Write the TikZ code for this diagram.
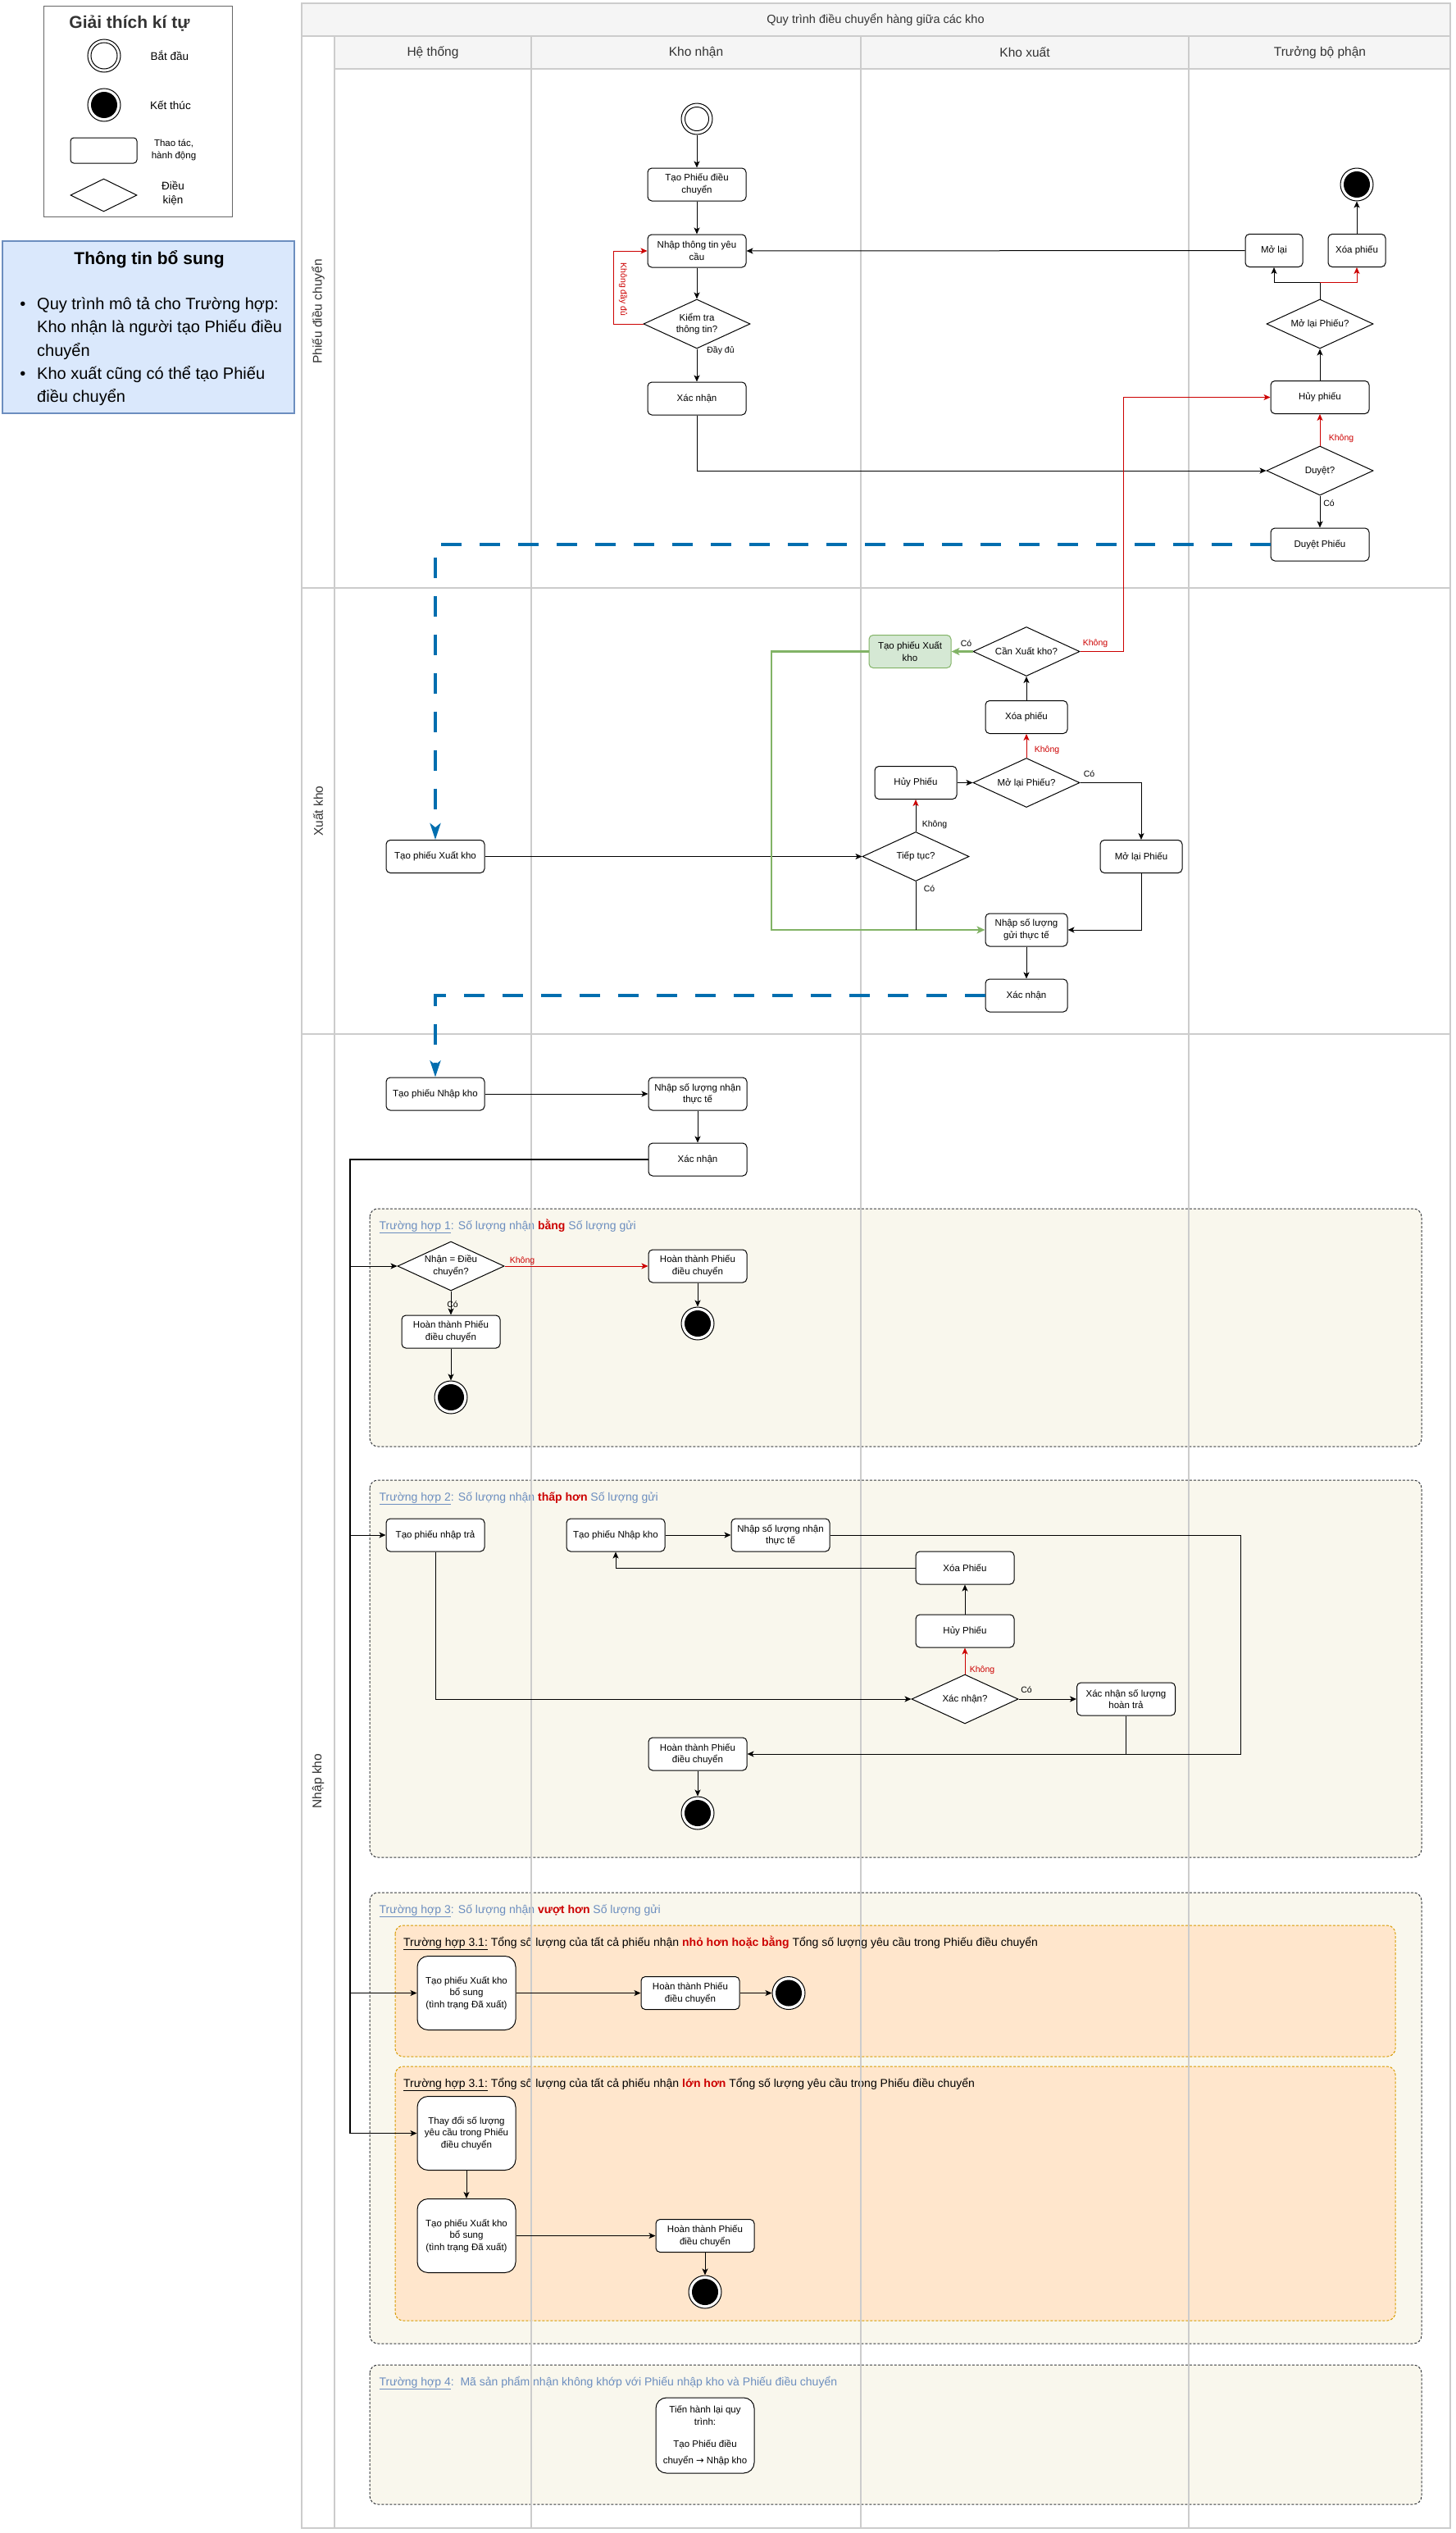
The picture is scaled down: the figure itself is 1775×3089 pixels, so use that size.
\documentclass[tikz,border=0pt]{standalone}
\usepackage{fontspec}
\setmainfont{Liberation Sans}
\newfontfamily\djv{DejaVu Sans}
\usetikzlibrary{arrows.meta,shapes.geometric}
\definecolor{gridc}{HTML}{CCCCCC}
\definecolor{hdrfill}{HTML}{F5F5F5}
\definecolor{hdrtext}{HTML}{333333}
\definecolor{tred}{HTML}{CC0000}
\definecolor{bluedash}{HTML}{006EAF}
\definecolor{gfill}{HTML}{D5E8D4}
\definecolor{gline}{HTML}{82B366}
\definecolor{casefill}{HTML}{F9F7ED}
\definecolor{caseline}{HTML}{36393D}
\definecolor{subfill}{HTML}{FFE6CC}
\definecolor{subline}{HTML}{D79B00}
\definecolor{ctitle}{HTML}{6C8EBF}
\definecolor{infofill}{HTML}{DAE8FC}
\definecolor{infoline}{HTML}{6C8EBF}
\definecolor{legline}{HTML}{666666}
\newcommand\nfont{\fontsize{11.5}{14.5}\selectfont}
\newcommand\sfontx{\fontsize{10.5}{12}\selectfont}
\newcommand\hfont{\fontsize{15.5}{18}\selectfont}
\newcommand\tfont{\fontsize{14}{16}\selectfont}
\newcommand\ifont{\fontsize{20}{24}\selectfont}
\newcommand\lgfont{\fontsize{13.5}{16}\selectfont}
\tikzset{
  act/.style={draw, line width=1, fill=white, rounded corners=5, minimum width=120, minimum height=40, inner sep=1, align=center, font=\nfont},
  tall/.style={act, rounded corners=13, minimum height=90},
  cond/.style={diamond, draw, line width=1, fill=white, aspect=2.17, minimum width=130, minimum height=60, inner sep=0, align=center, font=\nfont},
  startc/.style={circle, draw, line width=1, fill=white, minimum size=38, inner sep=0, path picture={\draw[black, line width=1] (path picture bounding box.center) circle (14.5pt);}},
  endc/.style={circle, draw, line width=1, fill=white, minimum size=40, inner sep=0, path picture={\fill[black] (path picture bounding box.center) circle (16pt);}},
  arr/.style={line width=1, -{Stealth[length=8pt,width=7pt,inset=2pt]}},
  rtip/.style={line width=1, -{Stealth[length=8pt,width=7pt,inset=2pt,color=tred]}},
  garr/.style={draw=gline, line width=2.5, -{Stealth[length=10pt,width=9pt,inset=2.5pt]}},
  bdash/.style={draw=bluedash, line width=3.5, dash pattern=on 25pt off 22pt, -{Stealth[length=20pt,width=13pt,inset=5pt]}},
  grid/.style={draw=gridc, line width=1.5},
  lbl/.style={font=\sfontx, inner sep=0},
  rlbl/.style={font=\sfontx, inner sep=0, text=tred},
  casebox/.style={draw=caseline, fill=casefill, dash pattern=on 3pt off 2pt, line width=1, rounded corners=10},
  subbox/.style={draw=subline, fill=subfill, dash pattern=on 3pt off 2pt, line width=1, rounded corners=10},
  ctit/.style={anchor=base west, font=\tfont, inner sep=0},
}
\begin{document}
\begin{tikzpicture}[x=1pt,y=-1pt]
\useasboundingbox (0,0) rectangle (1775,3089);

% ---------------- legend
\draw[draw=legline, line width=1] (53,7) rectangle (283,264);
\node[font=\fontsize{21}{24}\selectfont\bfseries, text=hdrtext] (legtitle) at (158,29) {Giải thích kí tự};
\node[startc, minimum size=40, path picture={\draw[black, line width=1] (path picture bounding box.center) circle (16pt);}] (legstart) at (127,68) {};
\node[font=\lgfont] (legstartt) at (207,68) {Bắt đầu};
\node[endc] (legend) at (127,128) {};
\node[font=\lgfont] (legendt) at (208,128) {Kết thúc};
\node[draw, line width=1, rounded corners=4, minimum width=81, minimum height=31, inner sep=0] (legrect) at (126.5,183.5) {};
\node[font=\fontsize{11.5}{14.5}\selectfont, align=center] (legrectt) at (212,183) {Thao tác,\\hành động};
\node[diamond, draw, line width=1, aspect=2.02, minimum width=81, minimum height=40, inner sep=0] (legdia) at (126.5,238) {};
\node[font=\fontsize{13.5}{17}\selectfont, align=center] (legdiat) at (211,236) {Điều\\kiện};

% ---------------- info box
\draw[fill=infofill, draw=infoline, line width=1.2] (3,294) rectangle (359,504);
\node[font=\fontsize{21}{24}\selectfont\bfseries] (infotitle) at (182,316) {Thông tin bổ sung};
\node[font=\ifont, anchor=base] (b1) at (28,377) {•};
\node[font=\ifont, anchor=base] (b2) at (28,462) {•};
\node[font=\ifont, anchor=base west, inner sep=0] (i1) at (45,377) {Quy trình mô tả cho Trường hợp:};
\node[font=\ifont, anchor=base west, inner sep=0] (i2) at (45,405) {Kho nhận là người tạo Phiếu điều};
\node[font=\ifont, anchor=base west, inner sep=0] (i3) at (45,434) {chuyển};
\node[font=\ifont, anchor=base west, inner sep=0] (i4) at (45,462) {Kho xuất cũng có thể tạo Phiếu};
\node[font=\ifont, anchor=base west, inner sep=0] (i5) at (45,490) {điều chuyển};

% ---------------- pool headers
\fill[hdrfill] (368,4) rectangle (1769,44);
\fill[hdrfill] (408,44) rectangle (1769,84);
\node[font=\fontsize{14.5}{17}\selectfont, text=hdrtext] (ptitle) at (1068,24) {Quy trình điều chuyển hàng giữa các kho};
\node[font=\hfont, text=hdrtext] (c1) at (528,64) {Hệ thống};
\node[font=\hfont, text=hdrtext] (c2) at (849,64) {Kho nhận};
\node[font=\hfont, text=hdrtext] (c3) at (1250,64) {Kho xuất};
\node[font=\hfont, text=hdrtext] (c4) at (1610,64) {Trưởng bộ phận};
\node[font=\hfont, text=hdrtext, rotate=90] (l1) at (388,380) {Phiếu điều chuyển};
\node[font=\hfont, text=hdrtext, rotate=90] (l2) at (388,989) {Xuất kho};
\node[font=\hfont, text=hdrtext, rotate=90] (l3) at (388,2172) {Nhập kho};

% ---------------- case containers
\draw[casebox] (451,1474) rectangle (1734,1764);
\node[ctit] (t1) at (462.5,1499) {\textcolor{ctitle}{\underline{Trường hợp 1}: Số lượng nhận} \textcolor{tred}{\bfseries bằng} \textcolor{ctitle}{Số lượng gửi}};
\draw[casebox] (451,1805) rectangle (1734,2265);
\node[ctit] (t2) at (462.5,1830) {\textcolor{ctitle}{\underline{Trường hợp 2}: Số lượng nhận} \textcolor{tred}{\bfseries thấp hơn} \textcolor{ctitle}{Số lượng gửi}};
\draw[casebox] (451,2308) rectangle (1734,2858);
\node[ctit] (t3) at (462.5,2333) {\textcolor{ctitle}{\underline{Trường hợp 3}: Số lượng nhận} \textcolor{tred}{\bfseries vượt hơn} \textcolor{ctitle}{Số lượng gửi}};
\draw[subbox] (482,2348) rectangle (1702,2508);
\node[ctit] (t31) at (492,2373) {\underline{Trường hợp 3.1:} Tổng số lượng của tất cả phiếu nhận \textcolor{tred}{\bfseries nhỏ hơn hoặc bằng} Tổng số lượng yêu cầu trong Phiếu điều chuyển};
\draw[subbox] (482,2520) rectangle (1702,2830);
\node[ctit] (t32) at (492,2545) {\underline{Trường hợp 3.1:} Tổng số lượng của tất cả phiếu nhận \textcolor{tred}{\bfseries lớn hơn} Tổng số lượng yêu cầu trong Phiếu điều chuyển};
\draw[casebox] (451,2884) rectangle (1734,3054);
\node[ctit] (t4) at (462.5,2909) {\textcolor{ctitle}{\underline{Trường hợp 4}:\ \ Mã sản phẩm nhận không khớp với Phiếu nhập kho và Phiếu điều chuyển}};

% ---------------- grid lines
\draw[grid] (368,4) rectangle (1769,3083);
\draw[grid] (368,44) -- (1769,44);
\draw[grid] (408,84) -- (1769,84);
\draw[grid] (408,44) -- (408,3083);
\draw[grid] (648,44) -- (648,3083);
\draw[grid] (1050,44) -- (1050,3083);
\draw[grid] (1450,44) -- (1450,3083);
\draw[grid] (368,717) -- (1769,717);
\draw[grid] (368,1261) -- (1769,1261);

% ---------------- lane 1 nodes
\node[startc] (start1) at (850,145) {};
\node[act] (n_tao) at (850,225) {Tạo Phiếu điều\\chuyển};
\node[act] (n_nhap) at (850,306) {Nhập thông tin yêu\\cầu};
\node[cond] (d_kt) at (850,395) {Kiểm tra\\thông tin?};
\node[act] (n_xn1) at (850,486) {Xác nhận};
\node[cond] (d_duyet) at (1610,574) {Duyệt?};
\node[act] (n_duyetp) at (1610,664) {Duyệt Phiếu};
\node[act] (n_huy1) at (1610,484.5) {Hủy phiếu};
\node[cond] (d_mol) at (1610,395) {Mở lại Phiếu?};
\node[act, minimum width=70] (n_mo) at (1554,305.5) {Mở lại};
\node[act, minimum width=70] (n_xoa) at (1655,305.5) {Xóa phiếu};
\node[endc] (end1) at (1655,225) {};

\node[rlbl, rotate=-90] (lb_kdd) at (760,353) {Không đầy đủ};
\node[lbl] (lb_dd) at (879,428) {Đầy đủ};
\node[rlbl] (lb_k1) at (1636,535) {Không};
\node[lbl] (lb_c1) at (1621,614) {Có};

% ---------------- lane 2 nodes
\node[act] (n_txk_ht) at (531,1044.5) {Tạo phiếu Xuất kho};
\node[cond] (d_tieptuc) at (1117,1044.5) {Tiếp tục?};
\node[act, minimum width=100] (n_huy2) at (1117,954.5) {Hủy Phiếu};
\node[cond] (d_mol2) at (1252,954.5) {Mở lại Phiếu?};
\node[act, minimum width=100] (n_xoa2) at (1252,874.5) {Xóa phiếu};
\node[cond] (d_can) at (1252,794.5) {Cần Xuất kho?};
\node[act, minimum width=100, fill=gfill, draw=gline] (n_txk_g) at (1110,794.5) {Tạo phiếu Xuất\\kho};
\node[act, minimum width=100] (n_molp) at (1392,1044.5) {Mở lại Phiếu};
\node[act, minimum width=100] (n_nsl) at (1252,1134) {Nhập số lượng\\gửi thực tế};
\node[act, minimum width=100] (n_xn2) at (1252,1214) {Xác nhận};

\node[lbl] (lb_c2) at (1178.5,785) {Có};
\node[rlbl] (lb_k2) at (1336,785) {Không};
\node[rlbl] (lb_k3) at (1277,915) {Không};
\node[lbl] (lb_c3) at (1328.5,944) {Có};
\node[lbl] (lb_k4) at (1140,1006) {Không};
\node[lbl] (lb_c4) at (1133.5,1084) {Có};

% ---------------- lane 3 nodes
\node[act] (n_tpnk) at (531,1334) {Tạo phiếu Nhập kho};
\node[act] (n_nsln) at (851,1334) {Nhập số lượng nhận\\thực tế};
\node[act] (n_xn3) at (851,1414) {Xác nhận};

\node[cond] (d_nhan) at (550,1544) {Nhận = Điều\\chuyển?};
\node[act] (n_ht1b) at (851,1544) {Hoàn thành Phiếu\\điều chuyển};
\node[endc] (end_c1b) at (851,1614) {};
\node[act] (n_ht1a) at (550,1624) {Hoàn thành Phiếu\\điều chuyển};
\node[endc] (end_c1a) at (550,1704) {};
\node[rlbl] (lb_k5) at (637,1538) {Không};
\node[lbl] (lb_c5) at (552,1591) {Có};

\node[act] (n_tpnt) at (531,1872) {Tạo phiếu nhập trả};
\node[act] (n_tpnk2) at (751,1872) {Tạo phiếu Nhập kho};
\node[act] (n_nsln2) at (952,1872) {Nhập số lượng nhận\\thực tế};
\node[act] (n_xoa3) at (1177,1912) {Xóa Phiếu};
\node[act] (n_huy3) at (1177,1989) {Hủy Phiếu};
\node[cond] (d_xn) at (1177,2072) {Xác nhận?};
\node[act] (n_xnht) at (1373.5,2072) {Xác nhận số lượng\\hoàn trả};
\node[act] (n_ht2) at (851,2139) {Hoàn thành Phiếu\\điều chuyển};
\node[endc] (end_c2) at (851,2211) {};
\node[rlbl] (lb_k6) at (1198,2037) {Không};
\node[lbl] (lb_c6) at (1252,2061) {Có};

\node[tall] (n_tpxb1) at (569,2430.5) {Tạo phiếu Xuất kho\\bổ sung\\(tình trạng Đã xuất)};
\node[act] (n_ht31) at (842,2430.5) {Hoàn thành Phiếu\\điều chuyển};
\node[endc] (end_31) at (962,2430.5) {};
\node[tall] (n_td) at (569,2601.5) {Thay đổi số lượng\\yêu cầu trong Phiếu\\điều chuyển};
\node[tall] (n_tpxb2) at (569,2726.5) {Tạo phiếu Xuất kho\\bổ sung\\(tình trạng Đã xuất)};
\node[act] (n_ht32) at (860,2726.5) {Hoàn thành Phiếu\\điều chuyển};
\node[endc] (end_32) at (860,2795) {};

\node[tall, minimum height=92] (n_th) at (860,2970) {Tiến hành lại quy\\trình:\\[13pt]Tạo Phiếu điều\\[5pt]chuyển {\djv →} Nhập kho};

% ---------------- connectors lane 1
\draw[arr] (start1) -- (n_tao);
\draw[arr] (n_tao) -- (n_nhap);
\draw[arr] (n_nhap) -- (d_kt);
\draw[arr] (d_kt) -- (n_xn1);
\draw[arr, tred] (d_kt.west) -- ++(-36,0) |- (n_nhap.west);
\draw[arr] (n_xn1.south) |- (d_duyet.west);
\draw[arr, tred] (d_duyet) -- (n_huy1);
\draw[arr] (d_duyet) -- (n_duyetp);
\draw[arr] (n_huy1) -- (d_mol);
\coordinate (brk) at (1610,344);
\draw[arr] (d_mol.north) -- (brk) -| (n_mo.south);
\draw[arr, tred] (brk) -| (n_xoa.south);
\draw[arr] (n_xoa) -- (end1);
\draw[arr] (n_mo.west) -- (n_nhap.east);
\draw[arr, tred] (d_can.east) -- (1370,794.5) |- (n_huy1.west);
\draw[bdash] (n_duyetp.west) -| (n_txk_ht.north);

% ---------------- connectors lane 2
\draw[arr] (n_txk_ht) -- (d_tieptuc);
\draw[rtip] (d_tieptuc) -- (n_huy2);
\draw[arr] (n_huy2) -- (d_mol2);
\draw[arr, tred] (d_mol2) -- (n_xoa2);
\draw[arr] (n_xoa2) -- (d_can);
\draw[garr] (d_can) -- (n_txk_g);
\draw[garr] (n_txk_g.west) -- (941,794.5) |- (n_nsl.west);
\draw[arr] (d_mol2.east) -| (n_molp.north);
\draw[arr] (n_molp.south) |- (n_nsl.east);
\draw[line width=1] (d_tieptuc.south) -- (d_tieptuc.south |- n_nsl.west);
\draw[arr] (n_nsl) -- (n_xn2);
\draw[bdash] (n_xn2.west) -| (n_tpnk.north);

% ---------------- connectors lane 3
\draw[arr] (n_tpnk) -- (n_nsln);
\draw[arr] (n_nsln) -- (n_xn3);
\coordinate (tk1) at (427,1544);
\coordinate (tk2) at (427,1872);
\coordinate (tk3) at (427,2430.5);
\coordinate (tk4) at (427,2601.5);
\draw[line width=1.3] (n_xn3.west) -| (tk4);
\draw[arr] (tk1) -- (d_nhan.west);
\draw[arr] (tk2) -- (n_tpnt.west);
\draw[arr] (tk3) -- (n_tpxb1.west);
\draw[arr] (tk4) -- (n_td.west);

\draw[arr, tred] (d_nhan) -- (n_ht1b);
\draw[arr] (d_nhan) -- (n_ht1a);
\draw[arr] (n_ht1b) -- (end_c1b);
\draw[arr] (n_ht1a) -- (end_c1a);

\draw[arr] (n_tpnt.south) |- (d_xn.west);
\draw[arr] (d_xn) -- (n_xnht);
\draw[arr, tred] (d_xn) -- (n_huy3);
\draw[arr] (n_huy3) -- (n_xoa3);
\draw[arr] (n_xoa3.west) -| (n_tpnk2.south);
\draw[arr] (n_tpnk2) -- (n_nsln2);
\draw[arr] (n_nsln2.east) -- (1513,1872) |- (n_ht2.east);
\draw[line width=1] (n_xnht.south) -- (n_xnht.south |- n_ht2.east);
\draw[arr] (n_ht2) -- (end_c2);

\draw[arr] (n_tpxb1) -- (n_ht31);
\draw[arr] (n_ht31) -- (end_31);
\draw[arr] (n_td) -- (n_tpxb2);
\draw[arr] (n_tpxb2) -- (n_ht32);
\draw[arr] (n_ht32) -- (end_32);
\end{tikzpicture}
\end{document}
